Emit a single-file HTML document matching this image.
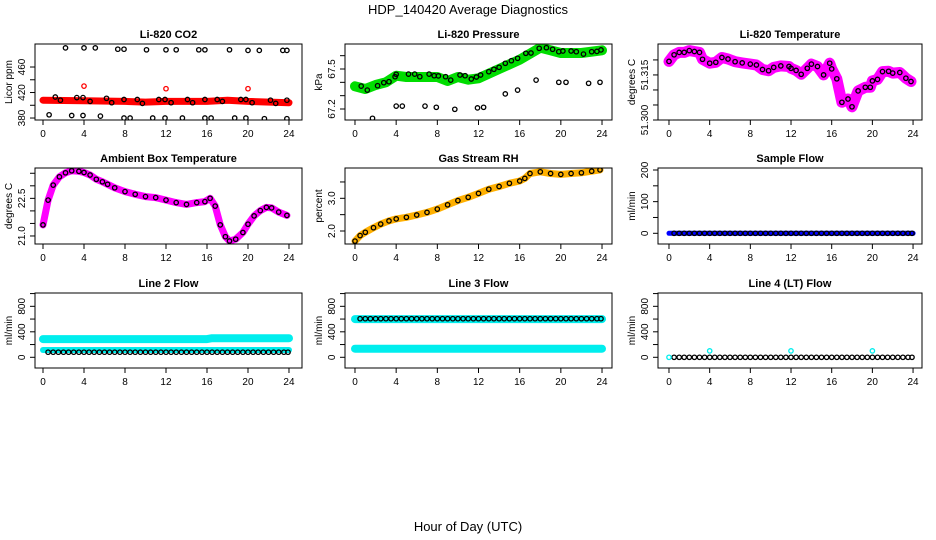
<!DOCTYPE html>
<html><head><meta charset="utf-8"><style>
body{margin:0;background:#fff}
svg{display:block;font-family:"Liberation Sans",sans-serif}
</style></head><body>
<svg id="chart" width="936" height="540" viewBox="0 0 936 540">
<text x="468" y="14" text-anchor="middle" font-size="13">HDP_140420  Average Diagnostics</text>
<text x="468" y="531" text-anchor="middle" font-size="13">Hour of Day (UTC)</text>
</svg>
<script>
// ---- data ----
const xTicks = [0,4,8,12,16,20,24];
const hh = [0.5,1,1.5,2,2.5,3,3.5,4,4.5,5,5.5,6,6.5,7,7.5,8,8.5,9,9.5,10,10.5,11,11.5,12,12.5,13,13.5,14,14.5,15,15.5,16,16.5,17,17.5,18,18.5,19,19.5,20,20.5,21,21.5,22,22.5,23,23.5,23.9];

const co2BandT = [0,4,8,10,12,16,18,20,24];
const co2BandV = [408,407,406,405,406,406,408,406,404];
const co2PtsT = [2.2,4,5.1,7.3,7.9,10.1,12,13,15.2,15.8,18.2,20,21.1,23.4,23.8, 1.2,1.7,3.3,3.9,4.6,6.2,6.7,7.9,9.2,9.7,11.3,11.9,12.5,14.1,14.6,15.8,17,17.5,19.3,19.8,20.4,22.2,22.7,23.8, 0.6,2.8,3.9,5.6,7.9,8.5,10.7,11.9,13.6,15.8,16.4,18.7,19.8,21.6,23.8];
const co2PtsV = [490,490,490,488,488,487,487,487,487,487,487,486,486,486,486, 413,408,412,412,406,411,404,409,409,403,409,409,404,409,404,409,409,406,409,409,404,408,403,408, 385,384,384,383,380,380,380,380,380,380,380,380,380,379,379];
const co2OutT = [4,12,20];
const co2OutV = [430,426,426];

const presBandT = [0,1,2,3,4,5,8,9,10,11,12,14,16,18,19,20,22,24];
const presBandV = [67.37,67.35,67.38,67.40,67.45,67.44,67.44,67.41,67.44,67.42,67.43,67.50,67.57,67.66,67.64,67.62,67.62,67.64];
const presPtsT = [0.6,1.2,2.2,2.8,3.3,3.9,4,5.2,5.8,6.3,7.2,7.7,8.1,8.8,9.3,10.2,10.7,11.3,11.8,12.2,13,13.5,14,14.6,15.2,15.8,16.6,17.1,17.9,18.6,19.2,19.8,20.2,21,21.5,22.2,23,23.5,23.9];
const presPtsV = [67.372,67.342,67.375,67.397,67.405,67.442,67.46,67.462,67.462,67.442,67.462,67.45,67.448,67.442,67.417,67.455,67.45,67.425,67.44,67.455,67.48,67.498,67.513,67.543,67.562,67.58,67.618,67.62,67.655,67.66,67.648,67.63,67.635,67.635,67.63,67.612,67.63,67.632,67.643];
const presLowT = [1.7,4,4.6,6.8,7.9,9.7,11.9,12.5,14.6,15.8,17.6,19.8,20.5,22.7,23.8];
const presLowV = [67.13,67.222,67.222,67.222,67.213,67.198,67.208,67.213,67.313,67.342,67.417,67.40,67.40,67.393,67.40];

const ltempT = [0,0.5,1,1.5,2,2.5,3,3.3,4,4.6,5.2,5.8,6.5,7.2,8,8.6,9.2,9.8,10.3,11,11.8,12,12.5,13,13.6,14,14.6,15.2,15.8,16,16.5,17,17.6,18,18.6,19.3,19.8,20,20.5,21,21.6,22,22.7,23.3,23.8];
const ltempV = [51.3195,51.3217,51.3225,51.3225,51.3231,51.3228,51.3225,51.3202,51.3189,51.3192,51.3208,51.3203,51.3194,51.3190,51.3186,51.3183,51.3168,51.3164,51.3175,51.3180,51.3178,51.3172,51.3165,51.3152,51.3172,51.3186,51.3178,51.3150,51.3189,51.3170,51.3137,51.3059,51.3070,51.3044,51.3097,51.3109,51.3109,51.3130,51.3135,51.3161,51.3162,51.3156,51.3158,51.3139,51.3128];

const ambT = [0,0.5,1,1.6,2.2,2.8,3.5,4,4.6,5.2,5.8,6.3,7,8,9,10,11,12,13,14,15,15.8,16.3,16.8,17.3,17.8,18.2,18.8,19.5,20,20.6,21.2,21.8,22.3,23,23.8];
const ambV = [21.44,22.43,23.03,23.36,23.52,23.6,23.58,23.53,23.43,23.26,23.16,23.06,22.92,22.77,22.66,22.57,22.53,22.43,22.33,22.26,22.33,22.37,22.5,22.19,21.44,20.97,20.8,20.87,21.14,21.47,21.8,22.01,22.14,22.12,21.95,21.82];

const rhT = [0,0.5,1,1.8,2.5,3.3,4,5,6,7,8,9,10,11,12,13,14,15,16,16.5,17,18,19,20,21,22,23,23.8];
const rhV = [1.69,1.86,1.96,2.1,2.21,2.31,2.37,2.42,2.49,2.57,2.67,2.8,2.93,3.03,3.15,3.28,3.36,3.46,3.53,3.61,3.76,3.81,3.76,3.73,3.76,3.78,3.83,3.87];

const sampleBandT = [0,24];
const sampleBandV = [0,0];
const sampleV = [0,0,0,0,0,0,0,0,0,0,0,0,0,0,0,0,0,0,0,0,0,0,0,0,0,0,0,0,0,0,0,0,0,0,0,0,0,0,0,0,0,0,0,0,0,0,0,0];

const l2UpT = [0,16,16.5,24];
const l2UpV = [285,285,300,300];
const l2LowT = [0,24];
const l2LowV = [115,115];
const l2V = [80,80,80,80,80,80,80,80,80,80,80,80,80,80,80,80,80,80,80,80,80,80,80,80,80,80,80,80,80,80,80,80,80,80,80,80,80,80,80,80,80,80,80,80,80,80,80,80];

const l3UpT = [0,24];
const l3UpV = [600,600];
const l3LowT = [0,24];
const l3LowV = [135,135];
const l3V = [605,605,605,605,605,605,605,605,605,605,605,605,605,605,605,605,605,605,605,605,605,605,605,605,605,605,605,605,605,605,605,605,605,605,605,605,605,605,605,605,605,605,605,605,605,605,605,605];

const l4V = [0,0,0,0,0,0,0,0,0,0,0,0,0,0,0,0,0,0,0,0,0,0,0,0,0,0,0,0,0,0,0,0,0,0,0,0,0,0,0,0,0,0,0,0,0,0,0,0];
const l4CyT = [0,4,12,20];
const l4CyV = [0,100,100,100];

const co2Ticks = [380,400,420,440,460];
const co2Labels = ["380","","420","","460"];
const presTicks = [67.2,67.3,67.4,67.5,67.6];
const presLabels = ["67.2","","","67.5",""];
const ltTicks = [51.300,51.305,51.310,51.315,51.320];
const ltLabels = ["51.300","","","51.315",""];
const ambTicks = [21.0,21.5,22.0,22.5,23.0,23.5];
const ambLabels = ["21.0","","","22.5","",""];
const rhTicks = [2.0,2.5,3.0,3.5];
const rhLabels = ["2.0","","3.0",""];
const sfTicks = [0,50,100,150,200];
const sfLabels = ["0","","100","","200"];
const flTicks = [0,200,400,600,800,1000];
const flLabels = ["0","","400","","800",""];

// ---- layout ----
const NS = "http://www.w3.org/2000/svg";
const svg = document.getElementById('chart');
const cols = [{l:35,r:302,xl:-0.78,xr:25.27},{l:345,r:612,xl:-0.97,xr:24.97},{l:658,r:922,xl:-1.08,xr:24.88}];
const rows = [{t:44,b:120},{t:168,b:244},{t:293,b:368}];

function mk(tag, attrs, parent){
  const e = document.createElementNS(NS, tag);
  for (const k in attrs) e.setAttribute(k, attrs[k]);
  (parent||svg).appendChild(e);
  return e;
}

function panel(ci, ri, name, title, ylab, ylo, yhi, ticks, labels, layers, showX){
  const c = cols[ci], r = rows[ri];
  const g = mk('g', {});
  
  
  const xs = v => c.l + (v - c.xl) / (c.xr - c.xl) * (c.r - c.l);
  const ys = v => r.b - (v - ylo) / (yhi - ylo) * (r.b - r.t);
  const t = mk('text', {x:(c.l+c.r)/2, y:r.t-6, 'text-anchor':'middle', 'font-size':11, 'font-weight':'bold'}, g);
  t.textContent = title;
  
  
  const cid = 'clip' + ci + ri;
  const cp = mk('clipPath', {id:cid}, g);
  mk('rect', {x:c.l, y:r.t, width:c.r-c.l, height:r.b-r.t}, cp);
  const data = mk('g', {'clip-path':'url(#'+cid+')'}, g);
  
  
  layers.forEach(L => {
    if (L.type === 'band') {
      const pts = L.t.map((tv,i) => xs(tv).toFixed(1) + ',' + ys(L.v[i]).toFixed(1)).join(' ');
      const pl = mk('polyline', {points:pts, fill:'none', stroke:L.color, 'stroke-width':L.w, 'stroke-linejoin':'round', 'stroke-linecap':'round'}, data);
      
      
    } else {
      L.t.forEach((tv,i) => {
        const ci2 = mk('circle', {cx:xs(tv).toFixed(1), cy:ys(L.v[i]).toFixed(1), r:L.r||2.2, fill:'none', stroke:L.color, 'stroke-width':L.sw||1.3}, data);
        
        
      });
    }
  });
  const box = mk('rect', {x:c.l, y:r.t, width:c.r-c.l, height:r.b-r.t, fill:'none', stroke:'#000', 'stroke-width':1}, g);
  
  
  const ya = mk('g', {}, g);
  
  
  ticks.forEach((tv,i) => {
    const y = ys(tv);
    mk('line', {x1:c.l-5, x2:c.l, y1:y, y2:y, stroke:'#000'}, ya);
    if (labels[i]) {
      const tx = mk('text', {x:0, y:0, 'text-anchor':'middle', 'font-size':10, transform:'translate('+(c.l-10)+','+y+') rotate(-90)'}, ya);
      tx.textContent = labels[i];
    }
  });
  const yt = mk('text', {x:0, y:0, 'text-anchor':'middle', 'font-size':10, transform:'translate('+(c.l-23)+','+((r.t+r.b)/2)+') rotate(-90)'}, g);
  yt.textContent = ylab;
  
  
  const xa = mk('g', {}, g);
  
  
  xTicks.forEach(tv => {
    const x = xs(tv);
    mk('line', {x1:x, x2:x, y1:r.b, y2:r.b+5, stroke:'#000'}, xa);
    if (showX) {
      const tx = mk('text', {x:x, y:r.b+17, 'text-anchor':'middle', 'font-size':10}, xa);
      tx.textContent = String(tv);
    }
  });
}

panel(0,0,'co2','Li-820 CO2','Licor ppm',376.9,496.1,co2Ticks,co2Labels,[
  {type:'band',t:co2BandT,v:co2BandV,color:'#ff0000',w:7},
  {type:'pts',t:co2OutT,v:co2OutV,color:'#ff0000'},
  {type:'pts',t:co2PtsT,v:co2PtsV,color:'#000'}],true);
panel(1,0,'pressure','Li-820 Pressure','kPa',67.1175,67.6876,presTicks,presLabels,[
  {type:'band',t:presBandT,v:presBandV,color:'#00dd00',w:10},
  {type:'pts',t:presPtsT,v:presPtsV,color:'#000'},
  {type:'pts',t:presLowT,v:presLowV,color:'#000'}],true);
panel(2,0,'li-temp','Li-820 Temperature','degrees C',51.300,51.3253,ltTicks,ltLabels,[
  {type:'band',t:ltempT,v:ltempV,color:'#ff00ff',w:11},
  {type:'pts',t:ltempT,v:ltempV,color:'#000'}],true);
panel(0,1,'ambient-temp','Ambient Box Temperature','degrees C',20.68,23.71,ambTicks,ambLabels,[
  {type:'band',t:ambT,v:ambV,color:'#ff00ff',w:7},
  {type:'pts',t:ambT,v:ambV,color:'#000'}],true);
panel(1,1,'gas-rh','Gas Stream RH','percent',1.6025,3.927,rhTicks,rhLabels,[
  {type:'band',t:rhT,v:rhV,color:'#ffb000',w:7},
  {type:'pts',t:rhT,v:rhV,color:'#000'}],true);
panel(2,1,'sample-flow','Sample Flow','ml/min',-33.8,206.3,sfTicks,sfLabels,[
  {type:'band',t:sampleBandT,v:sampleBandV,color:'#0000ff',w:5},
  {type:'pts',t:hh,v:sampleV,color:'#000'}],true);
panel(0,2,'line2-flow','Line 2 Flow','ml/min',-168,1009,flTicks,flLabels,[
  {type:'band',t:l2UpT,v:l2UpV,color:'#00eeee',w:8},
  {type:'band',t:l2LowT,v:l2LowV,color:'#00eeee',w:6},
  {type:'pts',t:hh,v:l2V,color:'#000'}],true);
panel(1,2,'line3-flow','Line 3 Flow','ml/min',-168,1009,flTicks,flLabels,[
  {type:'band',t:l3UpT,v:l3UpV,color:'#00eeee',w:8},
  {type:'band',t:l3LowT,v:l3LowV,color:'#00eeee',w:8},
  {type:'pts',t:hh,v:l3V,color:'#000'}],true);
panel(2,2,'line4-flow','Line 4 (LT) Flow','ml/min',-168,1009,flTicks,flLabels,[
  {type:'pts',t:hh,v:l4V,color:'#000'},
  {type:'pts',t:l4CyT,v:l4CyV,color:'#00eeee'}],true);
</script>
</body></html>
